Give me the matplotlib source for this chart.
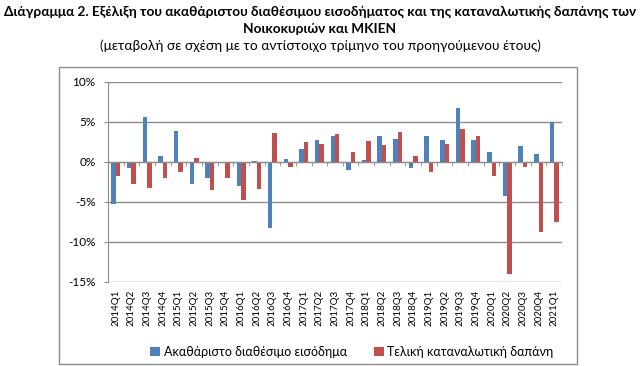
import numpy as np
import matplotlib
matplotlib.use("Agg")
import matplotlib.pyplot as plt
from matplotlib.patches import Rectangle

quarters = ["2014Q1", "2014Q2", "2014Q3", "2014Q4",
            "2015Q1", "2015Q2", "2015Q3", "2015Q4",
            "2016Q1", "2016Q2", "2016Q3", "2016Q4",
            "2017Q1", "2017Q2", "2017Q3", "2017Q4",
            "2018Q1", "2018Q2", "2018Q3", "2018Q4",
            "2019Q1", "2019Q2", "2019Q3", "2019Q4",
            "2020Q1", "2020Q2", "2020Q3", "2020Q4",
            "2021Q1"]
# gross disposable income, % change y-o-y
income = [-5.3, -0.7, 5.6, 0.7,
          3.9, -2.7, -2.0, -0.1,
          -3.0, 0.1, -8.2, 0.4,
          1.6, 2.7, 3.2, -1.0,
          0.3, 3.3, 2.9, -0.7,
          3.2, 2.8, 6.8, 2.7,
          1.2, -4.2, 2.0, 1.0,
          5.0]
# final consumption expenditure, % change y-o-y
consumption = [-1.7, -2.8, -3.2, -2.0,
               -1.3, 0.5, -3.5, -2.0,
               -4.8, -3.4, 3.6, -0.6,
               2.5, 2.3, 3.5, 1.2,
               2.6, 2.1, 3.7, 0.7,
               -1.2, 2.2, 4.1, 3.2,
               -1.7, -14.0, -0.6, -8.8,
               -7.5]

title1 = "Διάγραμμα 2. Εξέλιξη του ακαθάριστου διαθέσιμου εισοδήματος και της καταναλωτικής δαπάνης των"
title2 = "Νοικοκυριών και ΜΚΙΕΝ"
subtitle = "(μεταβολή σε σχέση με το αντίστοιχο τρίμηνο του προηγούμενου έτους)"
label_income = "Ακαθάριστο διαθέσιμο εισόδημα"
label_cons = "Τελική καταναλωτική δαπάνη"

BLUE = "#4F81BD"
RED = "#C0504D"
GRID = "#8C8C8C"

plt.rcParams["font.family"] = ["Lato", "DejaVu Sans"]

W, H = 640, 366
fig = plt.figure(figsize=(W / 100, H / 100), dpi=100)

# outer chart frame
fig.patches.append(Rectangle((59 / W, 1 - 364 / H), (577 - 59) / W, (364 - 67) / H,
                             transform=fig.transFigure, fill=False,
                             edgecolor="#8C8C8C", linewidth=1.0))

fig.text(0.5, 1 - 12 / H, title1, ha="center", va="center",
         fontsize=9.8, fontweight="bold")
fig.text(0.5, 1 - 29 / H, title2, ha="center", va="center",
         fontsize=9.8, fontweight="bold")
fig.text(0.5, 1 - 46 / H, subtitle, ha="center", va="center", fontsize=9.8)

ax = fig.add_axes([108 / W, 1 - 282 / H, (562 - 108) / W, 200 / H])

x = np.arange(len(quarters))
bw = 1 / 3.5
ax.bar(x - bw / 2, income, width=bw, color=BLUE, label=label_income, zorder=3)
ax.bar(x + bw / 2, consumption, width=bw, color=RED, label=label_cons, zorder=3)

ax.set_xlim(-0.5, len(quarters) - 0.5)
ax.set_ylim(-15, 10)
ax.set_yticks(np.arange(-15, 11, 5))
ax.set_yticklabels([f"{v}%" for v in range(-15, 11, 5)], fontsize=8.5)
ax.yaxis.grid(True, color=GRID, linewidth=1.0, zorder=0)
ax.set_axisbelow(True)

for s in ["top", "right"]:
    ax.spines[s].set_visible(False)
ax.spines["left"].set_color(GRID)
ax.spines["bottom"].set_color(GRID)
ax.spines["bottom"].set_position(("data", 0))
ax.spines["bottom"].set_zorder(4)

ax.set_xticks(x)
ax.set_xticklabels(quarters, rotation=90, fontsize=7, va="top")
ax.set_xticks(np.arange(-0.5, len(quarters), 1), minor=True)
ax.tick_params(axis="x", which="major", length=0, pad=92)
ax.tick_params(axis="x", which="minor", length=3, color=GRID, direction="out")
ax.tick_params(axis="y", length=3, color=GRID, pad=6)

fig.legend(loc="center", bbox_to_anchor=(352 / W, 1 - 352 / H), ncol=2,
           frameon=False, fontsize=9, handlelength=0.75, handleheight=0.75,
           handletextpad=0.3, columnspacing=2.2)

fig.savefig("out.png", dpi=100)
